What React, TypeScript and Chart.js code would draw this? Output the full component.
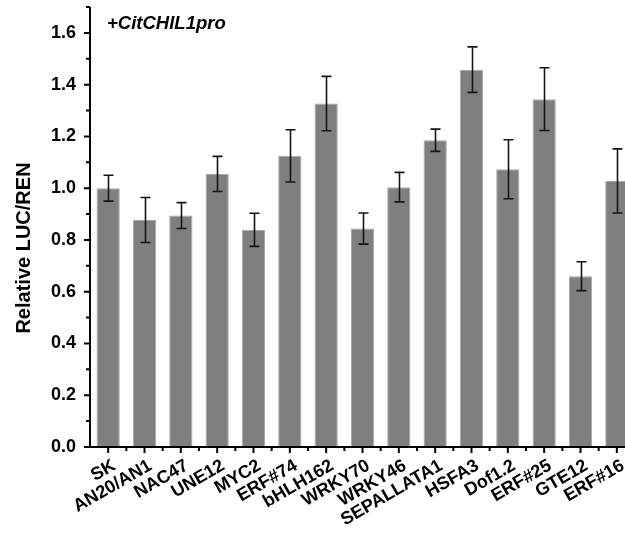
import React, { useEffect, useRef } from 'react';
import { Chart, registerables } from 'chart.js';

Chart.register(...registerables);

const categories = ['SK', 'AN20/AN1', 'NAC47', 'UNE12', 'MYC2', 'ERF#74', 'bHLH162', 'WRKY70', 'WRKY46', 'SEPALLATA1', 'HSFA3', 'Dof1.2', 'ERF#25', 'GTE12', 'ERF#16'];
const values = [1.0, 0.877, 0.894, 1.055, 0.839, 1.125, 1.327, 0.844, 1.004, 1.185, 1.458, 1.073, 1.344, 0.66, 1.028];
const errors = [0.05, 0.087, 0.05, 0.068, 0.064, 0.101, 0.105, 0.06, 0.057, 0.043, 0.088, 0.114, 0.121, 0.056, 0.124];
const yTicks = [0, 0.2, 0.4, 0.6, 0.8, 1.0, 1.2, 1.4, 1.6];
const yMinorTicks = [0.1, 0.3, 0.5, 0.7, 0.9, 1.1, 1.3, 1.5, 1.7];
const yMax = 1.7;
const yTitle = 'Relative LUC/REN';
const plotLabel = '+CitCHIL1pro';

const FONT = '"Liberation Sans", Arial, sans-serif';

const overlay = {
  id: 'overlay',
  afterDatasetsDraw(chart: any) {
    const { ctx, chartArea } = chart;
    const x = chart.scales.x;
    const y = chart.scales.y;
    ctx.save();
    // error bars
    ctx.strokeStyle = '#151515';
    ctx.lineWidth = 1.6;
    values.forEach((v, i) => {
      const cx = Math.round(x.getPixelForValue(i)) + 0.5;
      const top = y.getPixelForValue(v + errors[i]);
      const bot = y.getPixelForValue(v - errors[i]);
      ctx.beginPath();
      ctx.moveTo(cx, top);
      ctx.lineTo(cx, bot);
      ctx.moveTo(cx - 5, top);
      ctx.lineTo(cx + 5, top);
      ctx.moveTo(cx - 5, bot);
      ctx.lineTo(cx + 5, bot);
      ctx.stroke();
    });
    // axes
    ctx.strokeStyle = '#000';
    ctx.lineWidth = 2;
    const left = chartArea.left;
    const bottom = chartArea.bottom;
    ctx.beginPath();
    ctx.moveTo(left, chartArea.top);
    ctx.lineTo(left, bottom + 1);
    ctx.moveTo(left - 1, bottom);
    ctx.lineTo(chartArea.right + 20, bottom);
    yTicks.forEach((t) => {
      const py = y.getPixelForValue(t);
      ctx.moveTo(left - 6, py);
      ctx.lineTo(left, py);
    });
    yMinorTicks.forEach((t) => {
      const py = y.getPixelForValue(t);
      ctx.moveTo(left - 4, py);
      ctx.lineTo(left, py);
    });
    const half = (x.getPixelForValue(1) - x.getPixelForValue(0)) / 2;
    categories.forEach((_, i) => {
      const px = x.getPixelForValue(i);
      ctx.moveTo(px, bottom);
      ctx.lineTo(px, bottom + 6);
      ctx.moveTo(px + half, bottom);
      ctx.lineTo(px + half, bottom + 4);
    });
    ctx.stroke();

    // y title
    ctx.fillStyle = '#000';
    ctx.font = `bold 20px ${FONT}`;
    ctx.textAlign = 'center';
    ctx.textBaseline = 'middle';
    ctx.translate(24, 248);
    ctx.rotate(-Math.PI / 2);
    ctx.fillText(yTitle, 0, 0);
    ctx.restore();

    ctx.save();
    ctx.fillStyle = '#000';
    ctx.font = `italic bold 18.5px ${FONT}`;
    ctx.textAlign = 'left';
    ctx.textBaseline = 'alphabetic';
    ctx.fillText(plotLabel, 107, 29);
    ctx.restore();
  },
};

export default function App() {
  const ref = useRef<HTMLCanvasElement>(null);
  useEffect(() => {
    if (!ref.current) return;
    const chart = new Chart(ref.current, {
      type: 'bar',
      data: {
        labels: categories,
        datasets: [
          {
            data: values,
            backgroundColor: '#7f7f7f',
            borderColor: '#a6a6a6',
            borderWidth: 1,
            barPercentage: 0.64,
            categoryPercentage: 1,
          },
        ],
      },
      options: {
        responsive: false,
        maintainAspectRatio: false,
        animation: false,
        layout: { padding: { left: 0, right: 5, top: 7, bottom: 0 } },
        plugins: { legend: { display: false }, tooltip: { enabled: false }, title: { display: false } },
        scales: {
          x: {
            grid: { display: false, drawTicks: true, tickLength: 6 },
            border: { display: false },
            ticks: {
              color: '#000',
              font: { family: FONT, size: 18, weight: 'bold' },
              minRotation: 30,
              maxRotation: 30,
              autoSkip: false,
              padding: 2,
              labelOffset: 6,
            },
            afterFit: (s: any) => {
              s.height = 87;
              s.paddingLeft = 0;
              s.paddingRight = 0;
            },
          },
          y: {
            min: 0,
            max: yMax,
            grid: { display: false, drawTicks: true, tickLength: 6 },
            border: { display: false },
            afterBuildTicks: (s: any) => {
              s.ticks = yTicks.map((v) => ({ value: v }));
            },
            ticks: {
              color: '#000',
              font: { family: FONT, size: 18, weight: 'bold' },
              padding: 8,
              callback: (v: any) => Number(v).toFixed(1),
            },
            afterFit: (s: any) => {
              s.width = 90;
              s.paddingTop = 0;
              s.paddingBottom = 0;
            },
          },
        },
      },
      plugins: [overlay],
    });
    return () => chart.destroy();
  }, []);
  return (
    <div style={{ position: 'fixed', left: 0, top: 0, width: 625, height: 534, overflow: 'hidden', background: '#fff' }}>
      <canvas ref={ref} width={640} height={534} style={{ width: 640, height: 534, display: 'block' }} />
    </div>
  );
}
